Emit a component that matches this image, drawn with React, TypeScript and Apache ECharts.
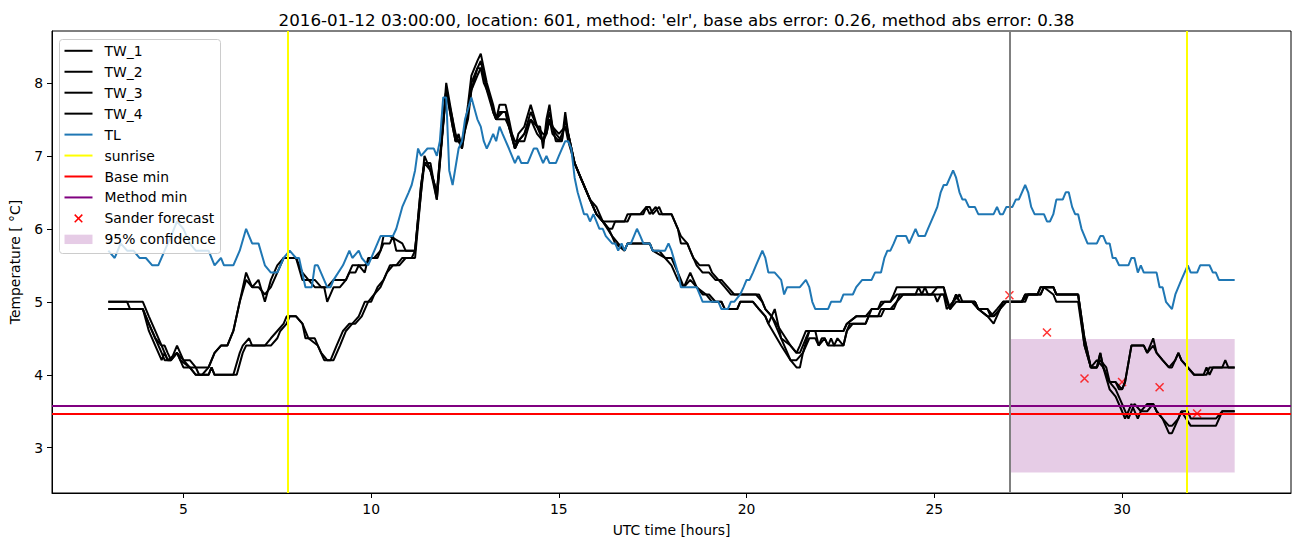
import React, { useEffect, useRef } from 'react';
import * as echarts from 'echarts';

// ---------- data (hours, °C) ----------
const TW_1: [number, number][] = [
  [3.0, 5.0], [3.92, 5.0], [4.08, 4.8], [4.25, 4.6], [4.42, 4.4], [4.5, 4.4], [4.58, 4.3], [4.67, 4.2], [4.83, 4.4], [5.0, 4.2],
  [5.17, 4.2], [5.33, 4.1], [5.67, 4.1], [5.83, 4.3], [6.0, 4.4], [6.17, 4.4], [6.33, 4.6], [6.5, 5.0], [6.67, 5.4], [6.83, 5.2],
  [7.0, 5.3], [7.17, 5.0], [7.33, 5.3], [7.5, 5.5], [7.67, 5.6], [8.0, 5.6], [8.17, 5.4], [8.33, 5.3], [8.5, 5.3], [8.67, 5.2],
  [8.75, 5.2], [8.83, 5.0], [9.0, 5.2], [9.17, 5.2], [9.33, 5.3], [9.5, 5.5], [9.67, 5.5], [9.83, 5.4], [9.92, 5.6], [10.08, 5.6],
  [10.25, 5.7], [10.33, 5.9], [10.5, 5.9], [10.83, 5.8], [10.92, 5.7], [11.17, 5.7], [11.33, 6.5], [11.42, 7.0], [11.5, 6.9], [11.58, 6.9],
  [11.75, 6.4], [12.0, 8.0], [12.17, 7.5], [12.25, 7.2], [12.33, 7.3], [12.42, 7.1], [12.58, 7.7], [12.67, 8.1], [12.83, 8.3], [12.92, 8.4],
  [13.0, 8.2], [13.08, 8.0], [13.25, 7.7], [13.33, 7.5], [13.42, 7.7], [13.58, 7.7], [13.67, 7.5], [13.83, 7.1], [13.92, 7.3], [14.08, 7.4],
  [14.25, 7.7], [14.42, 7.4], [14.5, 7.4], [14.58, 7.1], [14.67, 7.5], [14.75, 7.7], [14.83, 7.4], [14.92, 7.2], [15.08, 7.2], [15.17, 7.6],
  [15.25, 7.3], [15.42, 6.9], [15.58, 6.7], [15.83, 6.4], [16.0, 6.3], [16.17, 6.1], [16.75, 6.1], [16.83, 6.2], [17.17, 6.2], [17.33, 6.3],
  [17.42, 6.3], [17.5, 6.2], [17.67, 6.3], [17.75, 6.2], [18.0, 6.2], [18.17, 6.0], [18.25, 5.8], [18.42, 5.8], [18.5, 5.7], [18.67, 5.5],
  [18.83, 5.4], [19.0, 5.4], [19.17, 5.3], [19.33, 5.3], [19.5, 5.2], [19.67, 5.1], [20.33, 5.1], [20.42, 5.0], [20.5, 4.9], [20.67, 4.8],
  [20.92, 4.6], [21.17, 4.4], [21.33, 4.3], [21.42, 4.3], [21.58, 4.5], [21.67, 4.6], [22.58, 4.6], [22.67, 4.7], [22.92, 4.8], [23.17, 4.8],
  [23.33, 4.9], [23.5, 4.9], [23.58, 5.0], [23.83, 5.0], [23.92, 5.1], [24.0, 5.2], [25.25, 5.2], [25.33, 5.0], [25.42, 4.9], [25.58, 5.1],
  [25.67, 5.0], [26.08, 5.0], [26.17, 4.9], [26.42, 4.9], [26.5, 4.8], [26.67, 4.9], [26.83, 5.0], [27.33, 5.0], [27.42, 5.1], [27.75, 5.1],
  [27.83, 5.2], [28.17, 5.2], [28.25, 5.1], [28.83, 5.1], [29.0, 4.5], [29.17, 4.1], [29.33, 4.1], [29.42, 4.3], [29.5, 4.1], [29.67, 3.9],
  [29.83, 3.9], [29.92, 3.8], [30.0, 3.8], [30.08, 3.9], [30.25, 4.4], [30.58, 4.4], [30.67, 4.3], [30.83, 4.5], [30.92, 4.3], [31.08, 4.2],
  [31.25, 4.1], [31.33, 4.1], [31.5, 4.3], [31.58, 4.2], [31.75, 4.1], [31.92, 4.0], [32.25, 4.0], [32.33, 4.1], [32.67, 4.1], [32.75, 4.2],
  [32.83, 4.1], [33.0, 4.1],
];

const TW_2: [number, number][] = [
  [3.0, 5.0], [3.5, 5.0], [3.58, 4.9], [3.92, 4.9], [4.08, 4.7], [4.25, 4.5], [4.42, 4.4], [4.58, 4.2], [4.67, 4.2], [4.83, 4.3],
  [5.0, 4.1], [5.17, 4.1], [5.33, 4.0], [5.5, 4.0], [5.67, 4.1], [5.83, 4.3], [6.0, 4.4], [6.17, 4.4], [6.33, 4.6], [6.5, 5.0],
  [6.67, 5.3], [6.83, 5.2], [7.0, 5.2], [7.17, 5.1], [7.33, 5.2], [7.5, 5.4], [7.67, 5.6], [8.0, 5.6], [8.17, 5.3], [8.33, 5.3],
  [8.5, 5.2], [8.83, 5.2], [9.0, 5.3], [9.33, 5.3], [9.42, 5.4], [9.58, 5.4], [9.67, 5.5], [9.83, 5.5], [10.0, 5.6], [10.17, 5.6],
  [10.33, 5.8], [10.5, 5.8], [10.58, 5.9], [10.67, 5.7], [11.17, 5.7], [11.33, 6.6], [11.42, 6.9], [11.5, 6.9], [11.58, 6.8], [11.75, 6.5],
  [12.0, 7.9], [12.17, 7.4], [12.25, 7.2], [12.33, 7.2], [12.42, 7.1], [12.58, 7.6], [12.67, 8.0], [12.83, 8.2], [12.92, 8.3], [13.0, 8.1],
  [13.08, 7.9], [13.25, 7.6], [13.33, 7.5], [13.42, 7.6], [13.58, 7.6], [13.67, 7.4], [13.83, 7.1], [13.92, 7.2], [14.08, 7.3], [14.25, 7.6],
  [14.42, 7.4], [14.5, 7.3], [14.58, 7.2], [14.67, 7.4], [14.75, 7.6], [14.83, 7.4], [14.92, 7.3], [15.08, 7.2], [15.17, 7.5], [15.25, 7.3],
  [15.42, 6.9], [15.58, 6.7], [15.83, 6.4], [16.0, 6.2], [16.17, 6.1], [16.33, 6.0], [16.42, 6.0], [16.5, 6.1], [16.83, 6.1], [16.92, 6.2],
  [17.25, 6.2], [17.33, 6.3], [17.42, 6.2], [17.58, 6.3], [17.67, 6.2], [18.0, 6.2], [18.17, 6.0], [18.25, 5.9], [18.42, 5.8], [18.58, 5.6],
  [18.75, 5.5], [19.0, 5.5], [19.08, 5.4], [19.25, 5.3], [19.42, 5.2], [19.58, 5.1], [20.25, 5.1], [20.42, 5.0], [20.5, 4.9], [20.67, 4.8],
  [20.92, 4.5], [21.17, 4.4], [21.33, 4.3], [21.42, 4.4], [21.58, 4.6], [22.58, 4.6], [22.67, 4.7], [22.92, 4.8], [23.25, 4.8], [23.33, 4.9],
  [23.5, 4.9], [23.67, 5.0], [23.83, 5.0], [24.0, 5.1], [24.67, 5.1], [24.75, 5.2], [24.83, 5.1], [24.92, 5.1], [25.08, 5.2], [25.25, 5.2],
  [25.42, 4.9], [25.58, 5.1], [25.67, 5.0], [26.0, 5.0], [26.17, 4.9], [26.42, 4.9], [26.58, 4.8], [26.75, 4.9], [26.83, 5.0], [27.33, 5.0],
  [27.5, 5.1], [27.83, 5.1], [27.92, 5.2], [28.17, 5.2], [28.25, 5.1], [28.83, 5.1], [29.0, 4.4], [29.17, 4.1], [29.33, 4.1], [29.42, 4.2],
  [29.58, 4.1], [29.67, 3.9], [29.83, 3.9], [30.0, 3.8], [30.08, 3.9], [30.25, 4.4], [30.58, 4.4], [30.67, 4.3], [30.83, 4.4], [30.92, 4.3],
  [31.08, 4.2], [31.25, 4.1], [31.42, 4.2], [31.5, 4.3], [31.58, 4.2], [31.75, 4.1], [31.92, 4.0], [32.17, 4.0], [32.25, 4.1], [32.33, 4.0],
  [32.42, 4.1], [33.0, 4.1],
];

const TW_3: [number, number][] = [
  [3.0, 4.9], [3.92, 4.9], [4.08, 4.7], [4.25, 4.5], [4.42, 4.3], [4.5, 4.2], [4.67, 4.2], [4.83, 4.3], [5.0, 4.2], [5.17, 4.1],
  [5.33, 4.0], [5.67, 4.0], [5.75, 4.1], [5.83, 4.0], [6.33, 4.0], [6.5, 4.3], [6.58, 4.4], [6.75, 4.5], [6.83, 4.4], [7.17, 4.4],
  [7.33, 4.5], [7.5, 4.6], [7.67, 4.7], [7.75, 4.8], [8.0, 4.8], [8.17, 4.7], [8.25, 4.5], [8.5, 4.5], [8.58, 4.4], [8.75, 4.2],
  [8.92, 4.2], [9.08, 4.4], [9.25, 4.6], [9.42, 4.7], [9.5, 4.7], [9.67, 4.8], [9.83, 5.0], [10.0, 5.0], [10.17, 5.2], [10.33, 5.3],
  [10.5, 5.5], [10.67, 5.5], [10.83, 5.6], [11.08, 5.6], [11.17, 5.7], [11.33, 6.6], [11.42, 6.9], [11.58, 6.8], [11.75, 6.4], [12.0, 7.9],
  [12.17, 7.4], [12.25, 7.2], [12.42, 7.2], [12.58, 7.5], [12.67, 7.9], [12.83, 8.2], [12.92, 8.2], [13.0, 8.0], [13.17, 7.8], [13.25, 7.6],
  [13.33, 7.5], [13.58, 7.5], [13.67, 7.4], [13.83, 7.1], [13.92, 7.2], [14.08, 7.2], [14.25, 7.5], [14.42, 7.3], [14.58, 7.2], [14.67, 7.3],
  [14.75, 7.5], [14.83, 7.3], [15.0, 7.2], [15.17, 7.4], [15.25, 7.3], [15.42, 6.9], [15.58, 6.7], [15.83, 6.4], [16.0, 6.2], [16.17, 6.1],
  [16.42, 5.9], [16.58, 5.8], [16.75, 5.7], [16.83, 5.8], [17.42, 5.8], [17.5, 5.7], [17.83, 5.6], [18.0, 5.5], [18.17, 5.3], [18.33, 5.2],
  [18.5, 5.4], [18.67, 5.2], [18.83, 5.1], [19.0, 5.1], [19.17, 5.0], [19.33, 5.0], [19.42, 4.9], [19.75, 4.9], [19.83, 5.0], [20.17, 5.0],
  [20.33, 4.9], [20.5, 4.8], [20.58, 4.7], [20.75, 4.9], [20.92, 4.5], [21.17, 4.2], [21.33, 4.1], [21.42, 4.1], [21.5, 4.3], [21.67, 4.6],
  [21.83, 4.6], [21.92, 4.4], [22.08, 4.5], [22.17, 4.4], [22.25, 4.5], [22.33, 4.4], [22.58, 4.4], [22.67, 4.6], [22.75, 4.7], [23.17, 4.7],
  [23.25, 4.8], [23.58, 4.8], [23.67, 4.9], [23.92, 4.9], [24.0, 5.0], [24.08, 5.1], [24.5, 5.1], [24.58, 5.2], [24.67, 5.1], [25.0, 5.1],
  [25.08, 5.0], [25.17, 5.1], [25.25, 5.1], [25.33, 4.9], [25.5, 5.0], [25.67, 5.1], [25.75, 5.0], [26.08, 5.0], [26.17, 4.9], [26.42, 4.8],
  [26.58, 4.7], [26.75, 4.9], [26.83, 5.0], [27.33, 5.0], [27.42, 5.1], [27.75, 5.1], [27.83, 5.2], [28.17, 5.2], [28.25, 5.1], [28.83, 5.1],
  [29.0, 4.5], [29.17, 4.1], [29.33, 4.1], [29.42, 4.3], [29.5, 4.1], [29.67, 3.9], [29.83, 3.8], [30.0, 3.6], [30.17, 3.4], [30.33, 3.6],
  [30.5, 3.5], [30.67, 3.6], [30.83, 3.6], [30.92, 3.5], [31.08, 3.4], [31.25, 3.2], [31.33, 3.2], [31.5, 3.4], [31.58, 3.5], [31.75, 3.5],
  [31.83, 3.4], [32.5, 3.4], [32.67, 3.5], [33.0, 3.5],
];

const TW_4: [number, number][] = [
  [3.0, 4.9], [3.92, 4.9], [4.08, 4.6], [4.25, 4.4], [4.42, 4.2], [4.5, 4.3], [4.58, 4.2], [4.83, 4.3], [4.92, 4.2], [5.17, 4.1],
  [5.33, 4.1], [5.42, 4.0], [5.67, 4.0], [5.75, 4.1], [5.83, 4.0], [6.42, 4.0], [6.58, 4.3], [6.67, 4.4], [7.33, 4.4], [7.5, 4.5],
  [7.58, 4.6], [7.75, 4.7], [7.83, 4.8], [8.0, 4.8], [8.17, 4.7], [8.33, 4.5], [8.58, 4.4], [8.67, 4.3], [8.83, 4.2], [9.0, 4.2],
  [9.17, 4.4], [9.33, 4.6], [9.5, 4.7], [9.58, 4.7], [9.75, 4.8], [9.92, 5.0], [10.08, 5.1], [10.25, 5.2], [10.42, 5.4], [10.58, 5.5],
  [10.75, 5.5], [10.92, 5.6], [11.17, 5.6], [11.33, 6.5], [11.42, 6.9], [11.5, 6.9], [11.58, 6.8], [11.75, 6.5], [12.0, 7.9], [12.17, 7.5],
  [12.25, 7.3], [12.33, 7.2], [12.42, 7.2], [12.58, 7.6], [12.67, 7.9], [12.83, 8.1], [12.92, 8.2], [13.0, 8.1], [13.17, 7.8], [13.33, 7.5],
  [13.5, 7.6], [13.58, 7.6], [13.67, 7.4], [13.83, 7.2], [13.92, 7.2], [14.08, 7.3], [14.25, 7.5], [14.42, 7.4], [14.58, 7.3], [14.67, 7.3],
  [14.75, 7.5], [14.83, 7.4], [15.0, 7.3], [15.17, 7.4], [15.25, 7.2], [15.42, 6.9], [15.58, 6.7], [15.83, 6.4], [16.0, 6.2], [16.17, 6.1],
  [16.33, 6.0], [16.5, 5.8], [16.75, 5.7], [16.83, 5.8], [17.42, 5.8], [17.5, 5.7], [17.67, 5.7], [17.83, 5.6], [18.0, 5.6], [18.17, 5.4],
  [18.33, 5.2], [18.5, 5.3], [18.67, 5.2], [18.92, 5.1], [19.08, 5.0], [19.33, 5.0], [19.42, 4.9], [19.75, 4.9], [19.83, 5.0], [20.17, 5.0],
  [20.33, 4.9], [20.5, 4.8], [20.58, 4.7], [20.92, 4.4], [21.17, 4.2], [21.33, 4.2], [21.5, 4.3], [21.67, 4.5], [21.83, 4.5], [21.92, 4.4],
  [22.0, 4.5], [22.08, 4.5], [22.17, 4.4], [22.33, 4.4], [22.42, 4.5], [22.58, 4.4], [22.67, 4.6], [22.83, 4.7], [23.17, 4.7], [23.25, 4.8],
  [23.5, 4.8], [23.58, 4.9], [23.83, 4.9], [24.0, 5.0], [24.17, 5.1], [25.25, 5.1], [25.42, 4.9], [25.58, 5.0], [26.08, 5.0], [26.17, 4.9],
  [26.42, 4.8], [26.58, 4.8], [26.75, 4.9], [26.92, 5.0], [27.42, 5.0], [27.5, 5.1], [27.83, 5.1], [27.92, 5.2], [28.17, 5.1], [28.25, 5.0],
  [28.83, 5.0], [29.0, 4.4], [29.17, 4.1], [29.33, 4.2], [29.5, 4.1], [29.67, 3.8], [29.83, 3.7], [30.0, 3.5], [30.08, 3.4], [30.17, 3.5],
  [30.25, 3.6], [30.42, 3.4], [30.5, 3.5], [30.67, 3.5], [30.83, 3.6], [30.92, 3.5], [31.08, 3.4], [31.25, 3.3], [31.33, 3.3], [31.5, 3.4],
  [31.58, 3.5], [31.83, 3.3], [32.5, 3.3], [32.67, 3.5], [33.0, 3.5],
];

const TL: [number, number][] = [
  [3.0, 5.7], [3.17, 5.6], [3.33, 5.8], [3.5, 5.7], [3.67, 5.7], [3.83, 5.6], [4.0, 5.6], [4.17, 5.5], [4.33, 5.5], [4.5, 5.7],
  [4.67, 5.9], [4.83, 6.1], [5.0, 6.0], [5.17, 5.8], [5.33, 5.7], [5.67, 5.7], [5.83, 5.5], [6.0, 5.6], [6.08, 5.5], [6.33, 5.5],
  [6.5, 5.7], [6.67, 6.0], [6.83, 5.8], [7.0, 5.8], [7.17, 5.5], [7.33, 5.4], [7.5, 5.4], [7.67, 5.6], [7.83, 5.7], [8.0, 5.6],
  [8.08, 5.6], [8.25, 5.2], [8.42, 5.2], [8.5, 5.5], [8.58, 5.5], [8.83, 5.2], [8.92, 5.2], [9.0, 5.3], [9.25, 5.5], [9.42, 5.7],
  [9.5, 5.6], [9.67, 5.7], [9.75, 5.6], [9.92, 5.5], [10.25, 5.9], [10.58, 5.9], [10.67, 6.0], [10.83, 6.3], [11.0, 6.5], [11.08, 6.6],
  [11.17, 6.8], [11.25, 7.1], [11.33, 7.0], [11.5, 7.1], [11.67, 7.1], [11.75, 7.0], [11.83, 7.2], [11.92, 7.8], [12.0, 7.8], [12.08, 6.8],
  [12.17, 6.6], [12.33, 7.1], [12.42, 7.2], [12.5, 7.5], [12.67, 7.8], [12.83, 7.5], [12.92, 7.4], [13.0, 7.2], [13.08, 7.1], [13.17, 7.2],
  [13.25, 7.3], [13.33, 7.2], [13.42, 7.4], [13.5, 7.3], [13.67, 7.1], [13.75, 7.0], [13.83, 6.9], [13.92, 7.0], [14.0, 6.9], [14.17, 6.9],
  [14.25, 7.0], [14.33, 7.1], [14.42, 7.1], [14.5, 7.0], [14.58, 6.9], [14.67, 7.0], [14.75, 6.9], [14.92, 6.9], [15.0, 7.0], [15.17, 7.2],
  [15.25, 7.2], [15.33, 7.1], [15.42, 6.7], [15.5, 6.5], [15.67, 6.2], [15.75, 6.2], [15.83, 6.1], [15.92, 6.2], [16.0, 6.1], [16.08, 6.0],
  [16.17, 6.0], [16.25, 5.9], [16.42, 5.8], [16.5, 5.8], [16.58, 5.7], [16.67, 5.8], [16.75, 5.7], [16.83, 5.8], [16.92, 5.8], [17.0, 5.9],
  [17.08, 6.0], [17.17, 5.9], [17.25, 5.8], [17.42, 5.8], [17.5, 5.7], [17.83, 5.7], [17.92, 5.8], [18.0, 5.7], [18.17, 5.4], [18.25, 5.2],
  [18.67, 5.2], [18.75, 5.1], [18.83, 5.0], [19.25, 5.0], [19.33, 4.9], [19.5, 4.9], [19.58, 5.0], [19.67, 5.0], [19.83, 5.1], [19.92, 5.2],
  [20.0, 5.3], [20.08, 5.3], [20.17, 5.4], [20.25, 5.5], [20.42, 5.7], [20.5, 5.6], [20.58, 5.4], [20.75, 5.4], [20.92, 5.3], [21.0, 5.1],
  [21.08, 5.2], [21.42, 5.2], [21.58, 5.3], [21.67, 5.2], [21.75, 5.0], [21.83, 4.9], [22.17, 4.9], [22.25, 5.0], [22.5, 5.0], [22.58, 5.1],
  [22.83, 5.1], [22.92, 5.2], [23.08, 5.3], [23.33, 5.3], [23.42, 5.4], [23.58, 5.4], [23.67, 5.6], [23.75, 5.7], [23.83, 5.7], [23.92, 5.8],
  [24.0, 5.9], [24.25, 5.9], [24.33, 5.8], [24.5, 6.0], [24.58, 5.9], [24.75, 5.9], [24.83, 6.0], [25.0, 6.2], [25.08, 6.3], [25.17, 6.5],
  [25.25, 6.6], [25.33, 6.6], [25.5, 6.8], [25.58, 6.7], [25.67, 6.5], [25.75, 6.4], [25.83, 6.4], [25.92, 6.3], [26.08, 6.3], [26.17, 6.2],
  [26.58, 6.2], [26.67, 6.3], [26.75, 6.2], [26.83, 6.2], [26.92, 6.3], [27.08, 6.3], [27.17, 6.4], [27.25, 6.4], [27.42, 6.6], [27.5, 6.5],
  [27.58, 6.3], [27.67, 6.2], [27.92, 6.2], [28.0, 6.1], [28.08, 6.1], [28.17, 6.2], [28.25, 6.4], [28.42, 6.4], [28.5, 6.5], [28.58, 6.5],
  [28.67, 6.3], [28.75, 6.2], [28.83, 6.2], [28.92, 6.0], [29.0, 5.9], [29.08, 5.8], [29.33, 5.8], [29.42, 5.9], [29.5, 5.9], [29.58, 5.8],
  [29.67, 5.8], [29.75, 5.6], [29.83, 5.6], [29.92, 5.5], [30.17, 5.5], [30.25, 5.6], [30.33, 5.6], [30.42, 5.4], [30.5, 5.5], [30.58, 5.4],
  [30.92, 5.4], [31.0, 5.2], [31.08, 5.2], [31.17, 5.0], [31.33, 4.9], [31.42, 5.1], [31.58, 5.3], [31.75, 5.5], [31.83, 5.4], [32.0, 5.4],
  [32.08, 5.5], [32.33, 5.5], [32.42, 5.4], [32.5, 5.4], [32.58, 5.3], [33.0, 5.3],
];

const SANDER_HOURS = [27, 28, 29, 30, 31, 32];
const SANDER_VALUES = [5.09, 4.58, 3.95, 3.9, 3.83, 3.47];
const SUNRISE_HOURS = [7.77, 31.73];
const FORECAST_START_HOUR = [27];
const BASE_MIN = [3.47];
const METHOD_MIN = [3.58];
const CONFIDENCE_HOURS = [27, 33];
const CONFIDENCE_BOUNDS = [2.66, 4.49];
const X_TICKS = [5, 10, 15, 20, 25, 30];
const Y_TICKS = [3, 4, 5, 6, 7, 8];
const LEGEND_LABELS = ['TW_1', 'TW_2', 'TW_3', 'TW_4', 'TL', 'sunrise', 'Base min', 'Method min', 'Sander forecast', '95% confidence'];
const TITLE = "2016-01-12 03:00:00, location: 601, method: 'elr', base abs error: 0.26, method abs error: 0.38";

// ---------- styling ----------
const FONT = '"DejaVu Sans", sans-serif';
const FS = 13.9;
const BLUE = '#1f77b4';
const FILL = 'rgba(128,0,128,0.2)';
const GRID = { left: 52, top: 31, width: 1239, height: 462 };
const LEGEND_COLORS = ['#000', '#000', '#000', '#000', BLUE, '#ffff00', '#ff0000', '#800080', '#ff0000', FILL];

function buildLegend() {
  const els: any[] = [];
  const x0 = 59.5, y0 = 39.5, w = 161, h = 214;
  els.push({
    type: 'rect', z: 100, shape: { x: x0, y: y0, width: w, height: h, r: 3 },
    style: { fill: 'rgba(255,255,255,0.8)', stroke: '#cccccc', lineWidth: 1 },
  });
  LEGEND_LABELS.forEach((label, i) => {
    const y = 50.8 + i * 20.95;
    const color = LEGEND_COLORS[i];
    if (label === 'Sander forecast') {
      const cx = 78.5, d = 3.8;
      els.push({ type: 'line', z: 101, shape: { x1: cx - d, y1: y - d, x2: cx + d, y2: y + d }, style: { stroke: color, lineWidth: 1.5 } });
      els.push({ type: 'line', z: 101, shape: { x1: cx - d, y1: y + d, x2: cx + d, y2: y - d }, style: { stroke: color, lineWidth: 1.5 } });
    } else if (label === '95% confidence') {
      els.push({ type: 'rect', z: 101, shape: { x: 64.5, y: y - 4.7, width: 28, height: 9.4 }, style: { fill: color } });
    } else {
      els.push({ type: 'line', z: 101, shape: { x1: 64.5, y1: y, x2: 92.5, y2: y }, style: { stroke: color, lineWidth: 2 } });
    }
    els.push({
      type: 'text', z: 101, x: 104.5, y,
      style: { text: label, fill: '#000', font: `${FS}px ${FONT}`, align: 'left', verticalAlign: 'middle' },
    });
  });
  return els;
}

function lineSeries(name: string, data: [number, number][], color: string) {
  return {
    name, type: 'line', data, showSymbol: false, symbol: 'none',
    lineStyle: { color, width: 2 }, itemStyle: { color },
    silent: true, emphasis: { disabled: true },
  };
}

function refLines(name: string, color: string, items: any[]) {
  return {
    name, type: 'line', data: [], silent: true,
    markLine: {
      silent: true, symbol: ['none', 'none'], label: { show: false },
      lineStyle: { color, width: 2, type: 'solid' },
      emphasis: { disabled: true },
      data: items,
    },
  };
}

export default function App() {
  const ref = useRef<HTMLDivElement>(null);
  useEffect(() => {
    document.body.style.margin = '0';
    const chart = echarts.init(ref.current!, undefined, { renderer: 'svg' });
    const option: any = {
      animation: false,
      backgroundColor: '#ffffff',
      textStyle: { fontFamily: FONT, color: '#000' },
      title: {
        text: TITLE, left: GRID.left + GRID.width / 2, top: 6, textAlign: 'center',
        textStyle: { fontSize: 16.7, fontWeight: 'normal', color: '#000', fontFamily: FONT },
      },
      grid: { ...GRID, show: true, borderColor: '#000', borderWidth: 1, backgroundColor: 'transparent', containLabel: false },
      xAxis: {
        type: 'value', min: 1.5, max: 34.5,
        name: 'UTC time [hours]', nameLocation: 'middle', nameGap: 30,
        nameTextStyle: { fontSize: FS, color: '#000', fontFamily: FONT },
        splitLine: { show: false },
        axisLine: { show: true, onZero: false, lineStyle: { color: '#000', width: 1 } },
        axisTick: { show: true, inside: false, length: 5, customValues: X_TICKS, lineStyle: { color: '#000', width: 1 } },
        axisLabel: { show: true, margin: 9, customValues: X_TICKS, color: '#000', fontSize: FS, fontFamily: FONT },
      },
      yAxis: {
        type: 'value', min: 2.38, max: 8.71,
        name: 'Temperature [ °C]', nameLocation: 'middle', nameGap: 30, nameRotate: 90,
        nameTextStyle: { fontSize: FS, color: '#000', fontFamily: FONT },
        splitLine: { show: false },
        axisLine: { show: true, onZero: false, lineStyle: { color: '#000', width: 1 } },
        axisTick: { show: true, inside: false, length: 5, customValues: Y_TICKS, lineStyle: { color: '#000', width: 1 } },
        axisLabel: { show: true, margin: 9, customValues: Y_TICKS, color: '#000', fontSize: FS, fontFamily: FONT },
      },
      series: [
        {
          name: '95% confidence', type: 'line', data: [], silent: true,
          markArea: {
            silent: true, itemStyle: { color: FILL },
            data: [[
              { xAxis: CONFIDENCE_HOURS[0], yAxis: CONFIDENCE_BOUNDS[1] },
              { xAxis: CONFIDENCE_HOURS[1], yAxis: CONFIDENCE_BOUNDS[0] },
            ]],
          },
        },
        lineSeries('TW_1', TW_1, '#000'),
        lineSeries('TW_2', TW_2, '#000'),
        lineSeries('TW_3', TW_3, '#000'),
        lineSeries('TW_4', TW_4, '#000'),
        lineSeries('TL', TL, BLUE),
        refLines('sunrise', '#ffff00', SUNRISE_HOURS.map((h) => ({ xAxis: h }))),
        refLines('Base min', '#ff0000', BASE_MIN.map((v) => ({ yAxis: v }))),
        refLines('Method min', '#800080', METHOD_MIN.map((v) => ({ yAxis: v }))),
        {
          name: 'Sander forecast', type: 'scatter', silent: true,
          data: SANDER_HOURS.map((h, i) => [h, SANDER_VALUES[i]]),
          symbol: 'path://M0,0L10,10M10,0L0,10', symbolSize: 8,
          itemStyle: { color: 'rgba(0,0,0,0)', borderColor: '#ff0000', borderWidth: 1.5 },
          emphasis: { disabled: true },
        },
        refLines('forecast start', '#808080', FORECAST_START_HOUR.map((h) => ({ xAxis: h }))),
      ],
      graphic: { elements: buildLegend() },
    };
    chart.setOption(option);
    return () => chart.dispose();
  }, []);
  return <div ref={ref} style={{ position: 'absolute', left: 0, top: 0, width: 1302, height: 547 }} />;
}
